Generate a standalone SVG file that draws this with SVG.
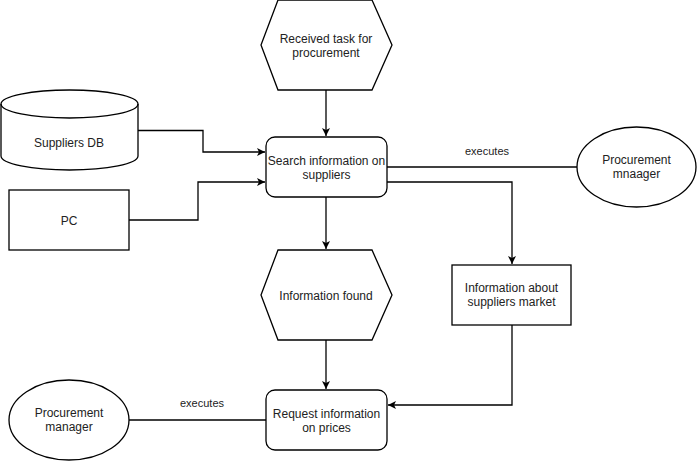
<svg xmlns="http://www.w3.org/2000/svg" width="697" height="461" viewBox="0 0 697 461">
<style>
.s{fill:#fff;stroke:#000;stroke-width:1.3}
.t{font-family:"Liberation Sans",Arial,sans-serif;font-size:12px;fill:#222;text-anchor:middle}
.l{font-size:11px}
.c{fill:none;stroke:#000;stroke-width:1.3}
</style>
<defs>
<marker id="a" viewBox="0 0 10 10" refX="10" refY="5" markerWidth="8" markerHeight="8" markerUnits="userSpaceOnUse" orient="auto">
<path d="M0,0 L10,5 L0,10 L2.5,5 Z" fill="#000"/>
</marker>
</defs>
<rect width="697" height="461" fill="#fff"/>
<g id="connectors">
<path class="c" d="M326,90 V136" marker-end="url(#a)"/>
<path class="c" d="M138,130.5 H203 V152 H265" marker-end="url(#a)"/>
<path class="c" d="M129,220 H198 V182 H265" marker-end="url(#a)"/>
<path class="c" d="M387,167 H577"/>
<path class="c" d="M387,182 H512 V264" marker-end="url(#a)"/>
<path class="c" d="M326,197 V249" marker-end="url(#a)"/>
<path class="c" d="M326,340 V389" marker-end="url(#a)"/>
<path class="c" d="M512,325 V405 H388" marker-end="url(#a)"/>
<path class="c" d="M129,420 H266"/>
<text class="t l" x="487" y="155">executes</text>
<text class="t l" x="202" y="407">executes</text>
</g>
<g id="received">
<polygon class="s" points="278,0 372,0 392,45 372,90 278,90 261,45"/>
<text class="t" x="326" y="43">Received task for</text>
<text class="t" x="326" y="57">procurement</text>
</g>
<g id="suppliersdb">
<path class="s" d="M1,104 A68.5,14 0 0 1 138,104 V156 A68.5,14 0 0 1 1,156 Z"/>
<path class="c" d="M1,104 A68.5,14 0 0 0 138,104"/>
<text class="t" x="69" y="147">Suppliers DB</text>
</g>
<g id="pc">
<rect class="s" x="9" y="190" width="120" height="60"/>
<text class="t" x="69" y="225">PC</text>
</g>
<g id="search">
<rect class="s" x="266" y="137" width="121" height="60" rx="9"/>
<text class="t" x="326.5" y="165">Search information on</text>
<text class="t" x="326.5" y="179">suppliers</text>
</g>
<g id="pm1">
<ellipse class="s" cx="636.5" cy="167" rx="59.5" ry="40"/>
<text class="t" x="636.5" y="164">Procurement</text>
<text class="t" x="636.5" y="178">mnaager</text>
</g>
<g id="found">
<polygon class="s" points="278,250 372,250 392,295 372,340 278,340 261,295"/>
<text class="t" x="326" y="300">Information found</text>
</g>
<g id="market">
<rect class="s" x="452" y="265" width="119" height="60"/>
<text class="t" x="511.5" y="292">Information about</text>
<text class="t" x="511.5" y="306">suppliers market</text>
</g>
<g id="request">
<rect class="s" x="266" y="390" width="121" height="60" rx="9"/>
<text class="t" x="326.5" y="418">Request information</text>
<text class="t" x="326.5" y="432">on prices</text>
</g>
<g id="pm2">
<ellipse class="s" cx="69" cy="420" rx="60" ry="40"/>
<text class="t" x="69" y="417">Procurement</text>
<text class="t" x="69" y="431">manager</text>
</g>
</svg>
